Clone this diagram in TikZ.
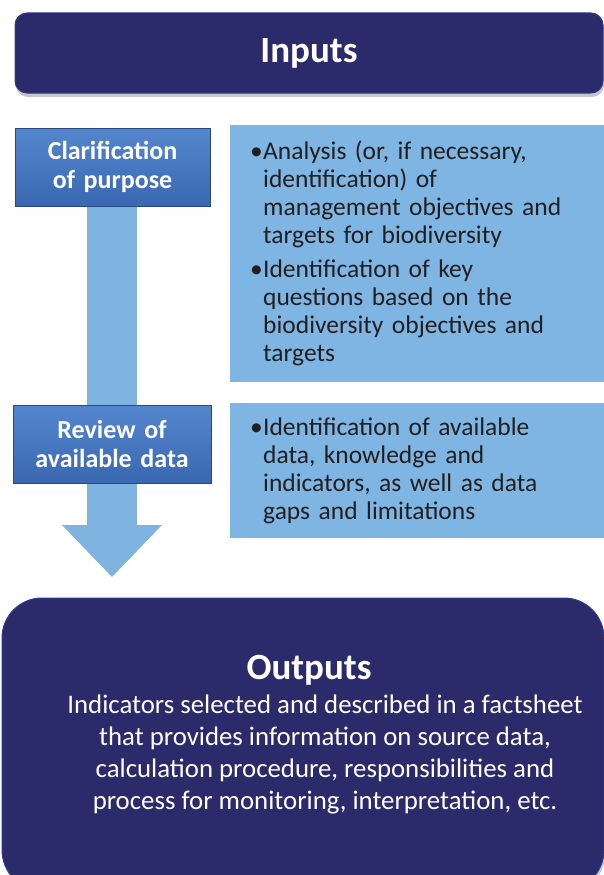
\documentclass[tikz,border=0pt]{standalone}
\usepackage{fontspec}
\setmainfont{Carlito}
\usetikzlibrary{positioning,shadows,arrows.meta}

\definecolor{navy}{RGB}{43,42,107}
\definecolor{navyedge}{RGB}{50,58,140}
\definecolor{stepblue}{RGB}{58,104,176}
\definecolor{steptop}{RGB}{84,134,206}
\definecolor{stepedge}{RGB}{40,72,130}
\definecolor{noteblue}{RGB}{126,181,226}
\definecolor{flowblue}{RGB}{128,180,224}
\definecolor{notetext}{RGB}{35,31,32}

\newcommand{\nbullet}{\makebox[13pt][l]{•}}
\newcommand{\nindent}{\hspace*{13pt}}

\begin{document}
\begin{tikzpicture}[x=1pt,y=-1pt,
    banner/.style={rectangle,rounded corners=12pt,draw=navyedge,line width=1pt,fill=navy,
      drop shadow={shadow xshift=1pt,shadow yshift=-4pt,opacity=0.45},
      text=white,font=\fontsize{37}{42}\selectfont\bfseries},
    stepbox/.style={rectangle,draw=stepedge,top color=steptop,bottom color=stepblue,
      minimum height=78pt,text width=190pt,align=center,inner xsep=2pt,
      text=white,font=\fontsize{26}{29}\selectfont\bfseries},
    notebox/.style={rectangle,fill=noteblue,anchor=north west,minimum width=374pt,
      text width=334pt,inner xsep=20pt,align=left,text=notetext,
      font=\fontsize{25.5}{28}\selectfont},
    flow/.style={draw=flowblue,line width=50pt,
      -{Triangle[width=100pt,length=52pt,line width=0pt]}}]
    \useasboundingbox (0,0) rectangle (604,875);
    % big downward arrow behind the steps
    \coordinate (flowtop) at (112,200);
    \coordinate (flowtip) at (112,577);
    \draw[flow] (flowtop) -- (flowtip);
    \node[banner,minimum width=588pt,minimum height=80pt] (inputs) at (309,53) {Inputs};
    \node[stepbox,minimum width=195pt] (clarify) at (112.5,167) {Clarification\\of purpose};
    \node[stepbox,minimum width=198pt] (review) at (112,444) {Review of\\available data};
    \node[notebox,minimum height=257pt] (purpose) at (230,125) {%
      \nbullet Analysis (or, if necessary,\\\nindent identification) of\\\nindent management objectives and\\\nindent targets for biodiversity\\[6pt]
      \nbullet Identification of key\\\nindent questions based on the\\\nindent biodiversity objectives and\\\nindent targets};
    \node[notebox,minimum height=135pt] (data) at (230,403) {%
      \nbullet Identification of available\\\nindent data, knowledge and\\\nindent indicators, as well as data\\\nindent gaps and limitations};
    % outputs panel, runs off the page
    \node[banner,rounded corners=40pt,minimum width=602pt,minimum height=292pt] (outbox) at (303,744) {};
    \node[text=white,font=\fontsize{37}{42}\selectfont\bfseries] (outtitle) at (309,670) {Outputs};
    \node[text=white,align=center,font=\fontsize{26.8}{32}\selectfont] (outtext) at (325,754)
      {Indicators selected and described in a factsheet\\that provides information on source data,\\calculation procedure, responsibilities and\\process for monitoring, interpretation, etc.};
\end{tikzpicture}
\end{document}
